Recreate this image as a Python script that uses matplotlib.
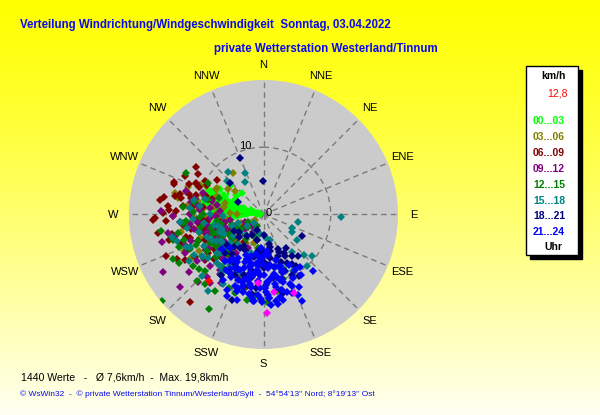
import numpy as np
import matplotlib
matplotlib.use("Agg")
import matplotlib.pyplot as plt
from matplotlib.patches import Rectangle

# ---------------- data (direction in degrees from north, speed in km/h) ----------------
directions = ["N", "NNE", "NE", "ENE", "E", "ESE", "SE", "SSE",
              "S", "SSW", "SW", "WSW", "W", "WNW", "NW", "NNW"]
hour_labels = ["00...03", "03...06", "06...09", "09...12",
               "12...15", "15...18", "18...21", "21...24"]
hour_colors = ["#00FF00", "#808000", "#800000", "#800080",
               "#008000", "#008080", "#000080", "#0000FF"]

lime_dir = [278, 285, 270, 290, 266, 288, 275, 293, 262, 282, 280, 295, 268, 287, 273, 291, 279, 265, 284, 289,
            276, 292, 270, 283, 286, 264, 290, 281, 274, 294, 260, 287, 277, 289, 283, 268, 296, 272, 285, 279,
            300, 250, 310, 245, 305, 255, 315]
lime_spd = [0.5, 8, 1, 8.5, 5, 2, 7.5, 9, 5.5, 0.8, 6.5, 8, 4.5, 1.5, 7, 8.8, 0.6, 6, 8, 3,
            7, 9, 1, 8.5, 6, 5, 2, 9, 7.5, 8.5, 5.5, 1, 8, 6, 3.5, 7, 6.5, 2.5, 9, 4,
            7.5, 7, 6.5, 8.5, 5, 9, 4.5]

olive_dir = [290, 275, 262, 300, 284, 250, 270, 324, 295, 258, 280, 240, 288, 266, 305, 276, 245, 292, 260, 282,
             239, 272, 298, 255, 286, 268, 310, 278, 248, 294, 263, 281, 252, 269, 287, 182, 257, 274, 296, 243,
             230, 245, 260, 215, 250, 238, 265, 222, 255, 242, 270, 228, 248, 235, 258, 218, 252, 240, 262, 226,
             205, 220, 235, 250, 212, 228, 243, 198, 226, 240]
olive_spd = [12, 9, 11, 8, 13.5, 10, 7, 7.7, 10.5, 12.5, 6, 11, 9.5, 8.5, 6.5, 11.5, 13, 7.5, 9, 10,
             12.5, 5, 8, 8.5, 12, 10.5, 5.5, 7.5, 9.5, 11, 6.5, 13, 11.5, 9, 6, 12.7, 7, 10.5, 9.5, 8,
             6, 7.5, 5, 8, 9, 4.5, 6.5, 7, 8.5, 5.5, 4, 9.5, 6, 7, 10, 8.5, 4, 8, 5.5, 6.5,
             3, 2.5, 4, 3.5, 5, 2, 3, 4.5, 5.5, 1.5]

maroon_dir = [305, 290, 278, 268, 275, 284, 307, 247, 220, 258, 295, 272, 262, 286, 252, 280, 298, 265, 240, 276,
              288, 255, 270, 300, 245, 282, 260, 292, 274, 250, 266, 285, 238, 278, 296, 256, 271, 263, 289, 248,
              281, 259, 302, 269, 243, 277, 293, 254, 267, 287, 261, 273, 235, 283, 257, 194, 200,
              235, 250, 262, 228, 245, 255, 240, 268, 232, 258, 248, 225, 242, 265, 252, 238, 260, 230, 246, 256,
              215, 230, 245, 222, 238, 252]
maroon_spd = [12.2, 14.1, 15.6, 16.2, 14.2, 12.8, 8.6, 15.7, 17, 13.9, 11, 13, 12, 10.5, 11.5, 15, 9.5, 10, 13.5, 12,
              9, 14.5, 11, 10, 12.5, 13.5, 16, 12, 9.5, 13, 14.5, 11.5, 12, 10.5, 13, 9, 15, 8.5, 14, 10.5,
              12.5, 11, 11.5, 13.5, 14.5, 9, 10.5, 12, 16.5, 8, 9.5, 14, 10, 11, 8.5, 11.2, 10,
              9, 7, 8.5, 10, 6.5, 9.5, 8, 7, 11, 6, 10.5, 9, 7.5, 9, 8, 10, 6.5, 8.5, 9.5, 7,
              5, 4.5, 5.5, 6, 3.5, 5]

purple_dir = [272, 255, 240, 229, 262, 280, 248, 235, 268, 290, 258, 244, 275, 226, 252, 285, 265, 238, 270, 232,
              260, 246, 278, 222, 256, 287, 242, 266, 250, 218, 274, 236, 259, 283, 228, 263, 245, 212, 269, 253,
              233, 277, 241, 257, 224, 264, 249, 216, 282, 231,
              215, 232, 248, 225, 240, 255, 210, 236, 250, 220, 244, 260, 228, 238, 252, 218, 234, 246, 222, 242,
              230, 258,
              195, 210, 225, 240, 205, 218, 232, 248, 200, 228]
purple_spd = [15.2, 15.7, 17.2, 16.5, 9, 11, 8, 12, 7, 9.5, 10.5, 13, 6.5, 11, 9, 8, 12.5, 10, 11, 14,
              6, 7.5, 10, 12.5, 13.5, 12, 9, 8, 11.5, 13, 9.5, 7, 14.5, 10.5, 9.5, 11, 6.5, 12, 13.5, 8.5,
              11, 8, 10, 7.5, 14, 10, 12.5, 11, 7, 8.5,
              7, 5.5, 6, 9, 8, 7.5, 10, 4.5, 9, 8, 6.5, 5, 7.5, 9.5, 6, 10.5, 8, 4.5, 6, 7,
              9, 8.5,
              4, 3, 2.5, 4.5, 5.5, 6, 3.5, 3, 6.5, 5]

green_dir = [229.6, 210, 298, 300, 261, 163, 191, 178, 245, 255, 235, 270, 220, 250, 240, 265, 228, 285, 205, 245,
             258, 215, 232, 275, 248, 200, 238, 262, 225, 252, 242, 280, 218, 234, 268, 195, 244, 256, 226, 290,
             212, 237, 264, 185, 246, 254, 222, 272, 208, 240, 259, 170, 230, 249, 196,
             225, 240, 212, 250, 232, 218, 245, 236, 258, 222, 242, 228, 252, 215, 238, 248,
             200, 215, 230, 245, 190, 222, 238, 208]
green_spd = [19.8, 16.2, 13, 9.5, 15.4, 10.1, 13, 13, 12, 10, 11, 9, 13.5, 8, 14.5, 11.5, 9.5, 8.5, 12, 6.5,
             13, 11, 7.5, 12, 10.5, 12.5, 8.5, 7, 14, 12.5, 9, 10.5, 10, 13, 9.5, 11.5, 15, 8, 12, 7,
             13.5, 10, 12, 12, 11, 14, 7.5, 10.5, 9, 6, 9.5, 11.5, 12.5, 13.5, 10,
             7, 5.5, 9, 8, 6, 10, 4.5, 8.5, 6.5, 8, 7, 9.5, 5, 11, 4, 7.5,
             3.5, 4.5, 3, 2.5, 5, 6, 5.5, 2]

teal_dir = [92, 102, 115, 127, 143, 149, 152, 320, 336, 330, 312, 216, 240, 255, 270, 225, 260, 285, 248, 232,
            265, 210, 278, 244, 253, 236, 220, 268, 200, 258, 246, 230, 282, 262, 238, 195, 250, 275, 228, 242,
            135, 122, 160, 256, 234, 266, 214, 247, 140, 130,
            220, 238, 250, 228, 212, 244, 232, 256, 224, 240, 216, 248, 235, 205, 230, 252,
            190, 205, 220, 235, 175, 212, 228, 198, 165, 185]
teal_spd = [11.6, 5.2, 4.7, 6.2, 7, 9.1, 9.5, 8.2, 6.7, 5.6, 7.4, 14.1, 12, 10, 8, 13, 11.5, 9, 7, 10.5,
            12.5, 12, 9.5, 8.5, 13.5, 11, 10, 6, 9.5, 7.5, 12, 9, 10.5, 9, 13, 11, 6.5, 11, 8, 10,
            8.5, 5, 8.5, 14, 7.5, 10.5, 9, 12.5, 10, 9.5,
            6, 7.5, 5, 8.5, 9, 6.5, 4.5, 7, 10, 8, 10.5, 9, 5.5, 9.5, 6.5, 4,
            3, 2.5, 4, 3, 3.5, 5.5, 2, 6, 4, 5]

navy_dir = [337, 359, 313, 296, 119, 154, 200, 160, 165, 158, 170, 175, 150, 185, 162, 145, 180, 168, 190, 155,
            172, 148, 195, 163, 178, 205, 152, 167, 183, 157, 140, 188, 171, 210, 160, 176, 146, 193, 164, 181,
            153, 198, 169, 186, 159, 174, 215, 166, 150, 179,
            200, 215, 228, 190, 210, 222, 205, 235, 195, 218, 212, 225, 208, 198, 230, 240, 220, 185,
            180, 195, 210, 170, 188, 202, 218, 175, 192]
navy_spd = [9.1, 5, 6.8, 4.2, 6.5, 8, 13.5, 6.5, 7, 6, 5.5, 7.5, 8.5, 6, 9, 7.5, 8, 5, 9.5, 10,
            6.5, 9, 11, 8, 10.5, 9, 6.5, 11.5, 7, 5.5, 8, 12, 9.5, 10, 7.5, 12.5, 6, 8.5, 10, 5.5,
            7, 9.5, 8, 11, 9, 6, 11, 12, 10.5, 7,
            7, 6, 5, 9, 8.5, 6.5, 10, 4.5, 8, 7.5, 5.5, 8, 6, 9.5, 7, 5, 9, 7.5,
            3, 4, 3.5, 4.5, 5.5, 2.5, 4, 6, 6.5]

blue_dir = [139, 148, 156, 157, 204, 197, 150, 175, 185, 165, 195, 170, 180, 160, 190, 200, 172, 155, 182, 168,
            193, 177, 162, 187, 208, 173, 158, 184, 198, 166, 179, 153, 189, 171, 202, 163, 186, 176, 210, 161,
            181, 194, 169, 145, 183, 174, 199, 164, 188, 178, 206, 159, 192, 167, 185, 173, 201, 176, 190, 162,
            171, 196, 180, 154, 186, 203, 168, 179, 191, 175, 212, 183, 166, 194, 177, 188, 170, 182, 199, 165,
            225, 230,
            200, 210, 190, 205, 215, 185, 195, 220, 180, 212, 198, 188, 207, 193, 216, 203, 183, 197, 209,
            190, 201, 214, 186, 196,
            185, 175]
blue_spd = [11.2, 10.6, 14, 13, 13.2, 13.3, 9.5, 8, 10, 7, 12, 11, 9, 12.5, 11, 8.5, 13, 10.5, 6.5, 9.5,
            10, 12, 8, 13, 9, 7.5, 11.5, 12, 10.5, 10, 11, 8.5, 9, 13.5, 11.5, 12, 7.5, 10, 10, 9,
            13, 8, 12.5, 9.5, 11, 6, 12, 10.5, 8.5, 11.5, 12.5, 11, 9.5, 13, 7, 9.5, 10.5, 12.5, 12, 8.5,
            10.5, 11, 7.5, 12, 13, 9, 8, 11, 10.5, 13.5, 11.5, 9, 11.5, 7.5, 10, 12.5, 9, 12.5, 11.5, 10,
            7, 8,
            7, 7.5, 6, 9, 8, 6.5, 8, 9, 6, 9.5, 7, 7.5, 10.5, 9, 8.5, 6.5, 9, 6.5, 8,
            11, 7.5, 10, 8.5, 10,
            5, 5.5]

gust_dir = [185, 172, 159, 178]
gust_spd = [10.2, 11.7, 12.5, 14.7]
current_dir = [219]
current_spd = [12.8]

groups = [(lime_dir, lime_spd), (olive_dir, olive_spd), (maroon_dir, maroon_spd), (purple_dir, purple_spd),
          (green_dir, green_spd), (teal_dir, teal_spd), (navy_dir, navy_spd), (blue_dir, blue_spd)]

# ---------------- figure ----------------
W, H = 600, 415
fig = plt.figure(figsize=(W / 100, H / 100), dpi=100)
plt.rcParams['font.family'] = ['Liberation Sans', 'DejaVu Sans']

# background gradient
bg = fig.add_axes([0, 0, 1, 1], zorder=-10)
t = np.linspace(0, 1, 256)[:, None]
grad = np.zeros((256, 2, 3))
grad[..., 0] = 1.0
grad[..., 1] = 1.0
grad[..., 2] = (0.95 * t ** 1.2).repeat(2, axis=1)
bg.imshow(grad, aspect='auto', extent=[0, 1, 0, 1], origin='upper')
bg.set_axis_off()

def fx(px):
    return px / W

def fy(py):
    return 1 - py / H

cx, cy, R = 263.5, 214.5, 134.5
ax = fig.add_axes([fx(cx - R), fy(cy + R), 2 * R / W, 2 * R / H], projection='polar')
ax.set_theta_zero_location('N')
ax.set_theta_direction(-1)
ax.set_ylim(0, 20)
ax.set_facecolor('#CBCBCB')
ax.spines['polar'].set_visible(False)
ax.set_xticks(np.radians(np.arange(0, 360, 22.5)))
ax.set_xticklabels([])
ax.set_yticks([10])
ax.set_yticklabels([])
ax.grid(True, color='#7A7A7A', linestyle=(0, (4, 3)), linewidth=1.0)
ax.tick_params(length=0)

for i, lab in enumerate(directions):
    ax.text(np.radians(i * 22.5), 22.3, lab, ha='center', va='center', fontsize=8, clip_on=False)
ax.text(np.radians(345), 10.6, "10", ha='center', va='center', fontsize=8)
ax.text(np.radians(72), 0.75, "0", ha='center', va='center', fontsize=8)

# lines for the calm night hours (fan) and markers for all groups
ld, ls = groups[0]
ax.plot(np.radians(ld), ls, '-', color=hour_colors[0], lw=1.2, zorder=3)
for (d, s), c in zip(groups, hour_colors):
    ax.plot(np.radians(d), s, linestyle='none', marker='D', markersize=4.1, color=c,
            markeredgewidth=0, zorder=4)
ax.plot(np.radians(gust_dir), gust_spd, linestyle='none', marker='D', markersize=4.1,
        color='#FF00FF', markeredgewidth=0, zorder=5)
ax.plot(np.radians(current_dir), current_spd, linestyle='none', marker='D', markersize=4.1,
        color='#FF0000', markeredgewidth=0, zorder=5)

# titles
blue = '#0A0AEE'
fig.text(fx(20), fy(25), "Verteilung Windrichtung/Windgeschwindigkeit  Sonntag, 03.04.2022",
         color=blue, fontsize=8.3, fontweight='bold', ha='left', va='center')
fig.text(fx(214), fy(49), "private Wetterstation Westerland/Tinnum",
         color=blue, fontsize=8.3, fontweight='bold', ha='left', va='center')

# legend box
fig.patches.append(Rectangle((fx(530), fy(259)), (578 - 526) / W, (255 - 66) / H,
                             transform=fig.transFigure, facecolor='black', edgecolor='black', zorder=1))
fig.patches.append(Rectangle((fx(526), fy(255)), (578 - 526) / W, (255 - 66) / H,
                             transform=fig.transFigure, facecolor='white', edgecolor='black',
                             linewidth=1, zorder=2))
fig.text(fx(553), fy(76), "km/h", fontsize=7.5, fontweight='bold', ha='center', va='center', zorder=3)
fig.text(fx(557), fy(93), "12,8", fontsize=7.5, color='#FF0000', ha='center', va='center', zorder=3)
for i, (lab, c) in enumerate(zip(hour_labels, hour_colors)):
    fig.text(fx(533), fy(121 + i * 15.9), lab, fontsize=7.5, fontweight='bold', color=c,
             ha='left', va='center', zorder=3)
fig.text(fx(553), fy(247), "Uhr", fontsize=7.5, fontweight='bold', ha='center', va='center', zorder=3)

# footer
fig.text(fx(21), fy(377), "1440 Werte   -   Ø 7,6km/h  -  Max. 19,8km/h",
         fontsize=7.6, ha='left', va='center')
fig.text(fx(20), fy(394),
         "© WsWin32  -  © private Wetterstation Tinnum/Westerland/Sylt  -  54°54'13'' Nord; 8°19'13'' Ost",
         fontsize=6.0, color=blue, ha='left', va='center')

fig.savefig("out.png", dpi=100)
